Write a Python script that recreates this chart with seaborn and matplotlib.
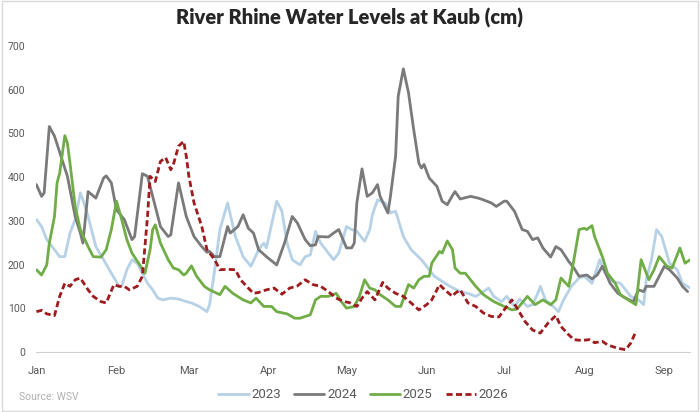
import pandas as pd
import matplotlib
matplotlib.use("Agg")
import matplotlib.pyplot as plt
import seaborn as sns

# Kaub gauge readings (cm); x = days since 1 Jan
days_2023 = [0, 2, 4, 7, 9, 11, 13, 15, 17, 18, 20, 23, 26, 29, 32, 33, 35, 37, 39, 41, 43, 45,
             47, 49, 52, 55, 58, 60, 63, 66, 67, 69, 71, 74, 77, 80, 83, 86, 88, 89, 93, 95, 97,
             99, 102, 104, 106, 108, 110, 113, 115, 117, 120, 122, 124, 127, 129, 130, 132, 135,
             137, 139, 142, 145, 149, 154, 160, 164, 167, 170, 172, 175, 177, 180, 182, 185, 187,
             190, 192, 194, 195, 197, 200, 202, 204, 207, 210, 212, 215, 218, 220, 223, 226, 228,
             230, 233, 235, 236, 238, 240, 242, 245, 248, 250, 253]
cm_2023 = [303, 287, 257, 234, 218, 218, 272, 303, 364, 348, 310, 241, 211, 180, 150, 150, 188,
           211, 203, 180, 157, 142, 123, 119, 123, 121, 115, 112, 104, 92, 108, 188, 280, 341,
           264, 218, 196, 234, 249, 238, 345, 322, 249, 211, 199, 218, 222, 276, 249, 226, 211,
           226, 287, 280, 276, 253, 280, 314, 348, 341, 318, 322, 264, 234, 211, 173, 150, 138,
           134, 127, 134, 146, 127, 115, 127, 104, 121, 104, 108, 134, 150, 119, 104, 92, 119,
           150, 169, 173, 157, 211, 180, 161, 157, 142, 127, 119, 108, 165, 211, 280, 264, 203,
           188, 157, 146]

days_2024 = [0, 2, 3, 5, 7, 12, 15, 17, 18, 20, 23, 26, 27, 29, 31, 34, 37, 38, 41, 43, 45, 48,
             51, 52, 55, 58, 61, 64, 66, 67, 69, 71, 74, 75, 78, 80, 82, 84, 86, 89, 93, 96, 99,
             101, 104, 106, 108, 109, 113, 115, 117, 120, 122, 123, 124, 126, 128, 130, 132, 133,
             136, 137, 139, 140, 142, 144, 146, 148, 149, 150, 152, 155, 157, 159, 161, 162, 164,
             168, 171, 173, 176, 178, 181, 182, 185, 188, 190, 192, 194, 196, 199, 201, 203, 206,
             208, 210, 213, 215, 217, 219, 220, 222, 225, 228, 231, 233, 235, 236, 239, 241, 243,
             245, 248, 250, 252]
cm_2024 = [383, 356, 364, 516, 494, 402, 310, 272, 249, 367, 352, 398, 403, 387, 325, 303, 257,
           264, 408, 402, 356, 287, 264, 268, 387, 310, 264, 241, 228, 230, 218, 218, 287, 272,
           287, 314, 283, 272, 234, 218, 199, 249, 310, 295, 257, 243, 245, 264, 263, 272, 280,
           238, 238, 249, 341, 419, 356, 364, 383, 356, 318, 356, 448, 585, 648, 593, 509, 432,
           421, 429, 398, 379, 345, 337, 358, 367, 350, 356, 352, 348, 341, 333, 345, 345, 322,
           280, 276, 257, 261, 238, 217, 241, 234, 207, 192, 173, 176, 167, 176, 196, 184, 157,
           134, 123, 115, 142, 138, 150, 150, 173, 196, 188, 169, 150, 138]

days_2025 = [0, 2, 4, 5, 7, 8, 9, 11, 12, 13, 15, 17, 20, 22, 25, 27, 29, 31, 33, 35, 37, 40, 42,
             44, 45, 46, 48, 51, 53, 55, 57, 58, 60, 62, 65, 67, 71, 73, 76, 80, 83, 85, 88, 91,
             93, 97, 100, 102, 106, 108, 110, 113, 116, 118, 120, 123, 125, 127, 129, 131, 133,
             136, 139, 141, 144, 146, 148, 150, 152, 153, 156, 157, 159, 161, 162, 164, 166, 170,
             173, 177, 181, 184, 186, 190, 193, 196, 199, 201, 203, 206, 208, 210, 212, 213, 215,
             216, 219, 221, 224, 226, 229, 232, 234, 237, 239, 241, 244, 246, 249, 251, 253]
cm_2025 = [188, 176, 199, 249, 310, 387, 409, 495, 478, 432, 333, 280, 241, 218, 217, 234, 280,
           345, 303, 257, 226, 199, 180, 234, 280, 291, 249, 211, 192, 188, 176, 180, 197, 173,
           150, 142, 131, 150, 134, 119, 112, 123, 104, 104, 92, 87, 77, 77, 85, 119, 127, 127,
           134, 115, 100, 104, 127, 165, 146, 142, 131, 119, 104, 104, 154, 146, 165, 173, 173,
           203, 230, 226, 254, 234, 192, 180, 180, 150, 131, 115, 104, 96, 98, 127, 108, 119,
           108, 119, 169, 150, 211, 280, 283, 280, 289, 264, 218, 180, 157, 131, 119, 108, 211,
           165, 188, 218, 196, 192, 238, 203, 211]

days_2026 = [0, 2, 4, 7, 9, 11, 13, 15, 17, 20, 22, 25, 27, 30, 32, 34, 36, 39, 41, 43, 44, 46,
             48, 50, 52, 53, 55, 57, 58, 59, 61, 64, 66, 69, 71, 74, 77, 79, 82, 84, 86, 89, 92,
             95, 98, 101, 104, 107, 110, 113, 116, 119, 121, 124, 126, 128, 131, 134, 136, 139,
             142, 145, 148, 151, 153, 156, 158, 161, 162, 164, 167, 170, 173, 176, 179, 181, 184,
             186, 189, 192, 195, 198, 201, 203, 206, 208, 211, 214, 216, 219, 221, 225, 228, 230,
             232]
cm_2026 = [92, 95, 87, 83, 127, 157, 150, 165, 169, 142, 127, 115, 112, 154, 150, 150, 142, 150,
           173, 310, 402, 390, 436, 445, 417, 429, 471, 482, 448, 402, 341, 287, 234, 211, 188,
           189, 188, 165, 146, 134, 136, 142, 146, 132, 146, 151, 165, 154, 150, 138, 123, 115,
           113, 104, 123, 138, 119, 159, 146, 134, 127, 112, 96, 108, 119, 154, 142, 127, 134,
           142, 112, 104, 89, 81, 80, 96, 119, 100, 70, 50, 43, 66, 83, 58, 39, 28, 26, 28, 21,
           24, 16, 8, 5, 20, 47]

month_starts = [0, 31, 59, 90, 120, 151, 181, 212, 243]
month_labels = ["Jan", "Feb", "Mar", "Apr", "May", "Jun", "Jul", "Aug", "Sep"]

colors = {"2023": "#b7d1e6", "2024": "#7a7a7a", "2025": "#70ad47", "2026": "#9e1b1e"}

frames = []
for yr, d, v in [("2023", days_2023, cm_2023), ("2024", days_2024, cm_2024),
                 ("2025", days_2025, cm_2025), ("2026", days_2026, cm_2026)]:
    frames.append(pd.DataFrame({"day": d, "cm": v, "year": yr}))
df = pd.concat(frames, ignore_index=True)

sns.set_style("white")
plt.rcParams["font.family"] = ["Roboto", "DejaVu Sans"]

fig = plt.figure(figsize=(7, 4.12), dpi=100)
ax = fig.add_axes([0.052, 0.146, 0.934, 0.742])

sns.lineplot(data=df, x="day", y="cm", hue="year", style="year", palette=colors,
             dashes={"2023": "", "2024": "", "2025": "", "2026": (2.2, 1.2)},
             linewidth=2, estimator=None, sort=False, ax=ax)

ax.set_xlim(0, 253)
ax.set_ylim(0, 700)
ax.set_yticks(range(0, 701, 100))
ax.set_xticks(month_starts)
ax.set_xticklabels(month_labels)
ax.set_xlabel("")
ax.set_ylabel("")
ax.tick_params(axis="y", length=0, labelsize=7.5, colors="#595959", pad=8)
ax.tick_params(axis="x", length=4, width=0.8, color="#d0d0d0", labelsize=8,
               labelcolor="#595959", pad=6)
for s in ["top", "right", "left"]:
    ax.spines[s].set_visible(False)
ax.spines["bottom"].set_color("#d0d0d0")

handles, labels = ax.get_legend_handles_labels()
ax.legend(handles, labels, ncol=4, loc="upper center", bbox_to_anchor=(0.5, -0.08),
          frameon=False, fontsize=9.5, handlelength=2.3, columnspacing=1.0,
          handletextpad=0.2, labelcolor="#595959")

fig.suptitle("River Rhine Water Levels at Kaub (cm)", x=0.5, y=0.98, fontsize=14.5,
             fontweight="heavy", family=["Lato", "DejaVu Sans"])
fig.text(0.027, 0.028, "Source: WSV", fontsize=7.5, color="#b0b0b0")

fig.patches.append(plt.Rectangle((0.003, 0.003), 0.994, 0.994, transform=fig.transFigure,
                                 fill=False, edgecolor="#d9d9d9", linewidth=1))

fig.savefig("out.png", dpi=100)
